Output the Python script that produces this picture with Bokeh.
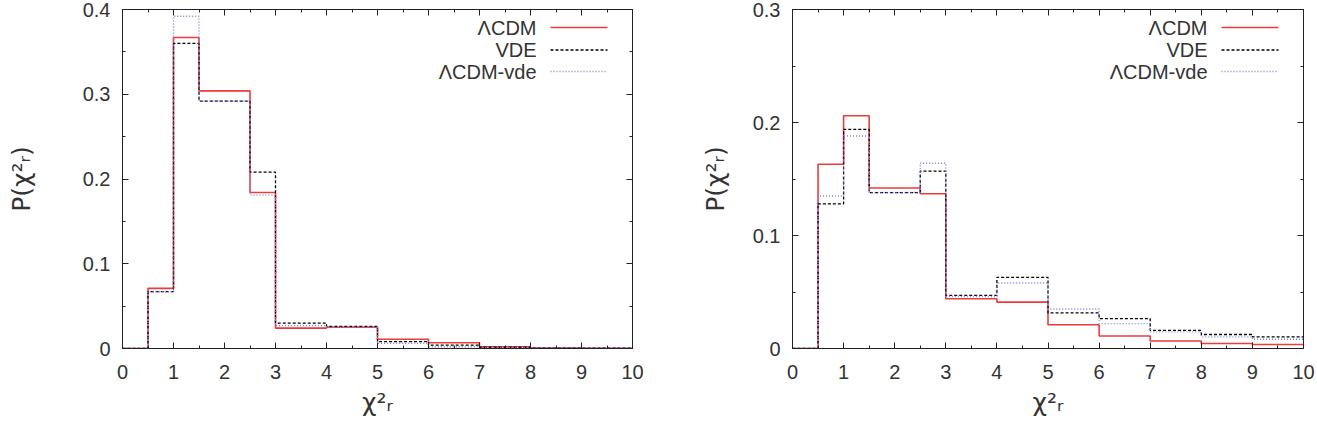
import math
from bokeh.plotting import figure
from bokeh.models import FixedTicker, LinearAxis, Label, Arrow, Range1d
from bokeh.layouts import row
from bokeh.embed import file_html
from bokeh.resources import INLINE

# ---- data ----
bin_edges = [0, 0.5, 1, 1.5, 2.5, 3, 4, 5, 6, 7, 8, 9, 10]

left_lcdm = [0, 0.071, 0.367, 0.304, 0.184, 0.024, 0.025, 0.011, 0.0068, 0.002, 0.0005, 0.0003]
left_vde = [0, 0.067, 0.360, 0.292, 0.208, 0.030, 0.026, 0.008, 0.004, 0.0015, 0.0005, 0.0003]
left_mix = [0, 0.067, 0.392, 0.292, 0.181, 0.027, 0.025, 0.006, 0.002, 0.001, 0.0003, 0.0002]

right_lcdm = [0, 0.163, 0.206, 0.142, 0.137, 0.044, 0.041, 0.021, 0.011, 0.0067, 0.0044, 0.0035]
right_vde = [0, 0.128, 0.194, 0.138, 0.157, 0.047, 0.063, 0.0315, 0.0265, 0.016, 0.0124, 0.0103]
right_mix = [0, 0.135, 0.188, 0.138, 0.164, 0.046, 0.058, 0.035, 0.022, 0.0147, 0.0103, 0.0082]

series_names = ["\u039bCDM", "VDE", "\u039bCDM-vde"]

x_title = "\u03c7\u00b2\u1d63"
y_title = "P(\u03c7\u00b2\u1d63)"

x_ticks = [0, 1, 2, 3, 4, 5, 6, 7, 8, 9, 10]
x_tick_labels = ["0", "1", "2", "3", "4", "5", "6", "7", "8", "9", "10"]
x_minor = [0.5 * i for i in range(21)]

left_y_ticks = [0, 0.1, 0.2, 0.3, 0.4]
left_y_labels = ["0", "0.1", "0.2", "0.3", "0.4"]
left_y_minor = [0.05 * i for i in range(9)]

right_y_ticks = [0, 0.1, 0.2, 0.3]
right_y_labels = ["0", "0.1", "0.2", "0.3"]
right_y_minor = [0.05 * i for i in range(7)]

# ---- styles ----
FONT = "Liberation Sans"
LABEL_FONT = "DejaVu Sans"
TICK_SIZE = "20px"
styles = [
    dict(line_color="#ee3b3b", line_width=1.6, line_dash="solid"),
    dict(line_color="#000000", line_width=1.3, line_dash="3 2"),
    dict(line_color="#7b7fe0", line_width=1.4, line_dash="1 2"),
]
FRAME_H = 339


def style_axis(ax, labels_visible, labels=None):
    ax.major_tick_in = 6
    ax.major_tick_out = 0
    ax.minor_tick_in = 3
    ax.minor_tick_out = 0
    ax.axis_line_color = "#222222"
    ax.major_tick_line_color = "#222222"
    ax.minor_tick_line_color = "#222222"
    if labels_visible:
        ax.major_label_text_font = FONT
        ax.major_label_text_font_size = TICK_SIZE
        ax.major_label_text_color = "#333333"
        ax.major_label_overrides = labels
        ax.axis_label_text_font = LABEL_FONT
        ax.axis_label_text_font_size = "25px"
        ax.axis_label_text_font_style = "normal"
        ax.axis_label_text_color = "#333333"
    else:
        ax.major_label_text_font_size = "0px"
        ax.major_label_standoff = 0
        ax.major_label_overrides = {k: "" for k in labels}


def add_text(p, text, x, y, size, angle=0.0, align="left", baseline="alphabetic"):
    p.add_layout(Label(x=x, y=y, x_units="screen", y_units="screen", text=text,
                       text_font=FONT, text_font_size=size, text_color="#333333",
                       angle=angle, text_align=align, text_baseline=baseline))


def make_panel(series, y_ticks, y_labels, y_minor, ymax, border_left, border_right, fw, ylab_standoff):
    p = figure(frame_width=fw, frame_height=FRAME_H,
               min_border_left=border_left, min_border_right=border_right,
               min_border_top=9, min_border_bottom=425 - 9 - FRAME_H,
               x_range=Range1d(0, 10), y_range=Range1d(0, ymax),
               output_backend="svg", toolbar_location=None)
    p.xgrid.visible = False
    p.ygrid.visible = False
    p.outline_line_color = "#222222"
    p.outline_line_width = 1
    p.background_fill_color = "white"
    p.border_fill_color = "white"

    xt = FixedTicker(ticks=x_ticks, minor_ticks=x_minor)
    yt = FixedTicker(ticks=y_ticks, minor_ticks=y_minor)
    xlab = {t: l for t, l in zip(x_ticks, x_tick_labels)}
    ylab = {t: l for t, l in zip(y_ticks, y_labels)}

    p.xaxis.ticker = xt
    p.yaxis.ticker = yt
    style_axis(p.xaxis[0], True, xlab)
    style_axis(p.yaxis[0], True, ylab)
    p.xaxis.major_label_standoff = 16
    p.yaxis.major_label_standoff = 12
    p.xaxis.axis_label = x_title
    p.xaxis.axis_label_standoff = 6
    p.yaxis.axis_label = y_title
    p.yaxis.axis_label_standoff = ylab_standoff

    top = LinearAxis(ticker=FixedTicker(ticks=x_ticks, minor_ticks=x_minor))
    style_axis(top, False, xlab)
    p.add_layout(top, "above")
    rgt = LinearAxis(ticker=FixedTicker(ticks=y_ticks, minor_ticks=y_minor))
    style_axis(rgt, False, ylab)
    p.add_layout(rgt, "right")

    for vals, st in zip(series, styles):
        p.step(x=bin_edges, y=vals + [vals[-1]], mode="after", **st)

    # legend (text left of the sample line, gnuplot style)
    row_y = [FRAME_H - 18, FRAME_H - 40.5, FRAME_H - 62]
    for name, st, yy in zip(series_names, styles, row_y):
        add_text(p, name, fw - 96, yy, "20px", align="right", baseline="middle")
        p.add_layout(Arrow(end=None, x_start=fw - 82, y_start=yy, x_end=fw - 25, y_end=yy,
                           start_units="screen", end_units="screen", **st))
    return p


p1 = make_panel([left_lcdm, left_vde, left_mix], left_y_ticks, left_y_labels, left_y_minor, 0.4,
                122, 26, 510, 44)
p2 = make_panel([right_lcdm, right_vde, right_mix], right_y_ticks, right_y_labels, right_y_minor, 0.3,
                134, 14, 511, 20)

layout = row(p1, p2)
open("out.html", "w").write(file_html(layout, INLINE))
